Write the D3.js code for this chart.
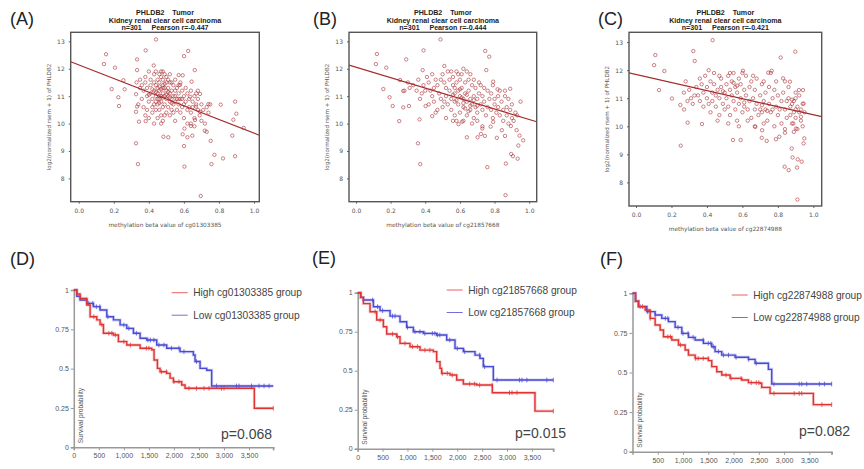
<!DOCTYPE html>
<html>
<head>
<meta charset="utf-8">
<script src="https://cdn.jsdelivr.net/npm/d3@7"></script>
<style>
  body { margin: 0; background: #fff; }
  svg { display: block; font-family: 'Liberation Sans', Arial, sans-serif; }
</style>
</head>
<body>
<div id="chart"></div>
<script>
// ---- scatter data: [methylation beta, log2 expression] ----
const pointsA = [
  [0.441,13.07],[0.156,12.53],[0.382,12.67],[0.624,12.65],[0.144,12.17],[0.207,12.04],[0.333,12.34],[0.333,11.95],
  [0.428,12.12],[0.601,12.46],[0.662,11.95],[0.188,11.26],[0.226,10.96],[0.230,10.64],[0.255,11.58],[0.262,11.25],
  [0.327,11.07],[0.333,10.62],[0.327,10.43],[0.344,10.07],[0.382,10.09],[0.327,9.28],[0.338,8.52],[0.483,9.52],
  [0.511,9.50],[0.603,9.82],[0.601,9.18],[0.603,8.43],[0.696,7.36],[0.593,9.61],[0.620,9.5],[0.648,9.56],
  [0.663,10.13],[0.640,9.91],[0.719,9.74],[0.730,9.70],[0.753,9.37],[0.757,8.52],[0.774,8.86],[0.823,8.73],
  [0.876,9.56],[0.892,8.81],[0.810,10.69],[0.892,10.80],[0.899,10.36],[0.882,10.14],[0.941,9.84],[0.740,10.71],
  [0.692,10.43],[0.669,10.62],[0.692,11.08],[0.635,10.98],[0.644,11.53],[0.593,11.76],[0.570,11.77],[0.578,11.41],
  [0.35,11.6],[0.36,11.4],[0.37,11.2],[0.36,10.9],[0.38,11.7],[0.38,11.5],[0.39,11.3],[0.39,11.0],[0.40,10.8],
  [0.40,11.9],[0.41,11.6],[0.41,11.4],[0.41,11.1],[0.42,10.9],[0.42,10.6],[0.37,10.6],[0.34,10.7],[0.35,11.3],
  [0.33,11.5],[0.38,10.3],[0.39,10.5],[0.40,10.2],[0.42,10.4],[0.43,10.0],
  [0.43,11.8],[0.43,11.5],[0.43,11.2],[0.44,11.0],[0.44,10.8],[0.44,11.9],[0.45,11.6],[0.45,11.3],[0.45,11.1],
  [0.45,10.7],[0.46,11.8],[0.46,11.5],[0.46,11.2],[0.46,10.9],[0.46,10.5],[0.47,11.9],[0.47,11.7],[0.47,11.0],
  [0.47,10.8],[0.47,10.3],[0.48,11.6],[0.48,11.4],[0.48,11.1],[0.48,10.6],[0.48,10.1],[0.49,11.8],[0.49,11.3],
  [0.49,11.0],[0.49,10.7],[0.50,11.5],[0.50,11.2],[0.50,10.9],[0.50,10.4],[0.44,10.5],[0.45,10.2],[0.47,10.0],
  [0.49,10.3],[0.43,10.7],[0.44,11.4],[0.46,11.0],[0.48,11.9],[0.50,11.7],
  [0.51,11.6],[0.51,11.3],[0.51,11.0],[0.51,10.6],[0.52,11.8],[0.52,11.1],[0.52,10.8],[0.52,10.3],[0.53,11.5],
  [0.53,11.2],[0.53,10.9],[0.53,10.5],[0.54,11.4],[0.54,11.0],[0.54,10.7],[0.55,11.6],[0.55,11.2],[0.55,10.8],
  [0.55,10.1],[0.56,11.3],[0.56,10.9],[0.56,10.5],[0.57,11.1],[0.57,10.7],[0.58,11.5],[0.58,10.9],[0.58,10.4],
  [0.59,11.2],[0.59,10.6],[0.60,11.0],[0.60,10.7],[0.60,10.2],[0.52,11.5],[0.54,10.4],[0.57,11.4],[0.59,10.9],
  [0.61,11.3],[0.61,10.8],[0.62,10.5],[0.62,11.1],[0.63,10.9],[0.63,10.6],[0.64,11.2],[0.64,10.4],[0.65,10.8],
  [0.65,10.6],[0.66,11.0],[0.66,10.2],[0.67,10.7],[0.67,11.1],[0.68,10.5],[0.68,10.9],[0.69,10.3],[0.70,10.7],
  [0.70,10.1],[0.71,10.5],[0.72,10.0],[0.73,10.6],[0.74,10.4],[0.75,10.7],[0.66,9.9],[0.62,10.0],[0.68,11.2],[0.64,10.0],
  [0.44,11.15],[0.46,11.35],[0.48,10.95],[0.50,11.05],[0.45,10.9],[0.47,11.25],[0.49,11.45],[0.51,11.15],
  [0.53,10.75],[0.42,11.25],[0.40,11.05],[0.55,11.0],[0.57,10.9],[0.46,10.75],[0.48,11.3],[0.52,10.95]
];
const pointsB = [
  [0.488,13.07],[0.121,12.54],[0.115,12.17],[0.175,12.04],[0.390,12.67],[0.290,12.34],[0.746,12.65],[0.769,12.44],
  [0.752,11.95],[0.385,11.95],[0.158,11.26],[0.194,10.96],[0.212,10.64],[0.250,10.09],[0.273,10.59],[0.306,10.64],
  [0.367,10.15],[0.358,9.28],[0.371,8.52],[0.273,11.19],[0.254,11.59],[0.402,10.64],[0.440,10.27],[0.640,9.50],
  [0.702,9.50],[0.721,9.62],[0.744,9.55],[0.758,8.41],[0.729,9.82],[0.813,9.48],[0.860,9.55],[0.865,8.54],
  [0.863,7.39],[0.896,8.89],[0.906,8.81],[0.933,8.72],[0.937,9.20],[0.944,9.56],[0.965,9.39],[0.950,10.80],
  [0.927,9.76],[0.894,9.91],[0.842,9.76],[0.777,9.89],[0.792,10.06],[0.890,11.27],[0.817,11.25],[0.792,11.53],
  [0.613,10.07],[0.592,9.98],[0.560,10.10],
  [0.41,11.7],[0.42,11.5],[0.43,11.2],[0.44,11.0],[0.45,10.8],[0.46,11.6],[0.47,11.4],[0.48,11.1],[0.49,10.9],
  [0.50,10.6],[0.50,11.8],[0.51,12.1],[0.51,11.5],[0.52,11.3],[0.52,11.0],[0.53,10.7],[0.53,11.9],[0.54,11.6],
  [0.54,11.2],[0.55,10.9],[0.55,10.5],[0.56,11.7],[0.56,11.4],[0.57,11.1],[0.57,10.8],[0.58,11.9],[0.58,11.5],
  [0.59,11.2],[0.59,10.7],[0.60,11.6],[0.60,11.0],[0.60,10.4],[0.61,11.8],[0.61,11.3],[0.62,10.9],[0.62,10.6],
  [0.63,11.5],[0.63,11.1],[0.64,10.8],[0.64,10.3],[0.65,11.6],[0.65,11.2],[0.66,10.9],[0.66,10.5],[0.67,11.4],
  [0.67,10.7],[0.68,11.0],[0.68,10.2],[0.69,11.3],[0.69,10.6],[0.70,10.9],[0.70,10.4],[0.71,11.5],[0.71,11.1],
  [0.72,10.7],[0.73,10.5],[0.73,11.0],[0.74,10.8],[0.75,10.3],[0.76,11.2],[0.76,10.6],[0.77,10.9],[0.78,10.5],
  [0.78,11.1],[0.79,10.2],[0.80,10.7],[0.80,10.9],[0.81,10.4],[0.82,10.6],[0.82,11.0],[0.83,10.3],[0.84,10.8],
  [0.85,10.5],[0.85,10.1],[0.86,11.0],[0.87,10.6],[0.87,10.3],[0.88,10.9],[0.88,10.0],[0.89,10.5],[0.90,10.2],
  [0.90,10.7],[0.91,10.1],[0.92,10.4],[0.93,10.3],[0.45,11.3],[0.47,10.5],[0.49,11.6],[0.52,10.2],[0.55,11.9],
  [0.57,10.3],[0.59,11.8],[0.62,12.0],[0.64,11.9],[0.66,11.8],[0.68,11.6],[0.72,11.4],[0.74,11.3],[0.79,11.4],
  [0.83,11.2],[0.86,11.2],[0.62,10.1],[0.67,10.0],[0.70,10.1],[0.73,9.9],[0.58,10.1],[0.44,11.8],[0.39,11.4],
  [0.38,11.1],[0.36,11.6],[0.33,11.4],[0.35,11.2],[0.30,11.5],[0.28,11.2],[0.31,11.3],[0.37,10.9],[0.40,11.2],
  [0.42,10.7],[0.46,10.4],[0.51,10.8],
  [0.56,11.05],[0.58,10.85],[0.60,11.25],[0.62,10.75],[0.64,11.05],[0.66,10.65],[0.68,10.85],[0.70,10.65],
  [0.61,10.95],[0.65,10.45],[0.57,11.3],[0.63,10.55]
];
const pointsC = [
  [0.432,13.07],[0.109,12.54],[0.102,12.18],[0.323,12.68],[0.331,12.33],[0.130,11.29],[0.203,10.99],[0.250,10.76],
  [0.271,10.60],[0.291,10.13],[0.252,9.31],[0.372,10.08],[0.547,9.51],[0.590,9.51],[0.711,9.86],[0.709,9.59],
  [0.737,9.48],[0.789,9.54],[0.816,12.45],[0.898,12.66],[0.840,9.77],[0.878,9.21],[0.883,8.89],[0.838,8.56],
  [0.861,8.44],[0.912,8.82],[0.934,8.74],[0.908,8.53],[0.910,7.39],[0.945,9.39],[0.949,9.57],[0.902,9.92],
  [0.887,10.10],[0.930,10.34],[0.945,10.81],[0.942,11.29],[0.919,11.29],[0.868,11.59],[0.829,11.71],[0.765,11.98],
  [0.746,11.91],[0.603,11.98],[0.160,11.97],[0.808,9.63],[0.673,9.98],
  [0.28,11.6],[0.30,11.3],[0.31,11.0],[0.32,10.8],[0.34,11.4],[0.35,11.1],[0.36,10.9],[0.37,11.5],[0.38,11.2],
  [0.38,10.7],[0.39,11.8],[0.40,11.4],[0.40,11.0],[0.41,10.8],[0.42,11.6],[0.42,10.5],[0.43,11.2],[0.43,10.9],
  [0.44,11.9],[0.44,11.5],[0.45,11.1],[0.45,10.7],[0.46,11.3],[0.47,11.0],[0.47,10.4],[0.48,11.7],[0.48,11.4],
  [0.49,10.8],[0.50,11.2],[0.50,10.6],[0.51,11.5],[0.51,11.0],[0.52,11.8],[0.52,10.7],[0.53,11.3],[0.53,10.4],
  [0.54,11.6],[0.54,11.1],[0.55,10.9],[0.55,11.9],[0.56,11.4],[0.56,10.6],[0.57,11.2],[0.57,10.2],[0.58,11.7],
  [0.58,10.8],[0.59,11.5],[0.59,11.0],[0.60,10.5],[0.61,11.3],[0.61,10.7],[0.62,11.8],[0.62,11.1],[0.63,10.6],
  [0.64,11.4],[0.64,10.9],[0.65,11.6],[0.65,10.3],[0.66,11.0],[0.67,10.6],[0.67,11.3],[0.68,11.7],[0.68,10.8],
  [0.69,10.4],[0.70,11.1],[0.70,10.6],[0.71,11.5],[0.71,10.5],[0.72,10.9],[0.73,10.6],[0.73,11.2],[0.74,10.2],
  [0.75,10.8],[0.75,11.4],[0.76,10.5],[0.77,11.0],[0.77,10.6],[0.78,11.3],[0.79,10.7],[0.80,10.4],[0.80,11.1],
  [0.81,10.6],[0.82,10.9],[0.82,10.1],[0.83,11.2],[0.84,10.6],[0.85,10.3],[0.85,10.9],[0.86,11.0],[0.87,10.7],
  [0.87,10.4],[0.88,10.1],[0.88,10.8],[0.89,10.9],[0.89,10.5],[0.90,11.0],[0.90,10.3],[0.91,10.7],[0.91,9.9],
  [0.92,10.5],[0.92,11.1],[0.93,10.6],[0.93,10.2],[0.94,10.8],[0.94,10.0],[0.95,10.5],[0.90,11.2],[0.86,11.4],
  [0.84,11.6],[0.79,11.6],[0.76,11.9],[0.72,11.6],[0.66,11.8],[0.60,11.9],[0.53,11.9],[0.47,11.8],[0.41,12.0],
  [0.36,11.7],[0.33,11.1],[0.29,10.9],[0.27,11.2],[0.46,10.2],[0.52,10.1],[0.58,10.0],[0.63,10.2],[0.67,10.0],
  [0.72,10.1],[0.78,10.0],[0.84,9.9],[0.89,9.8],
  [0.55,11.55],[0.57,11.45],[0.49,11.25],[0.61,10.85],[0.71,10.75],[0.74,10.55],[0.88,10.95],[0.90,10.6]
];
// fitted regression lines [intercept, slope]
const fitA = [12.14, -2.49];
const fitB = [12.06, -1.91];
const fitC = [11.85, -1.44];
const probes = ['cg01303385', 'cg21857668', 'cg22874988'];
const pearson = ['-0.447', '-0.444', '-0.421'];
const betaTicks = [0, 0.2, 0.4, 0.6, 0.8, 1.0];
const exprTicks = [8, 9, 10, 11, 12, 13];

// ---- survival data: step points [days, survival] and censor times ----
const kmHighD = [[0,1],[60,0.975],[126,0.947],[260,0.905],[326,0.83],[459,0.81],[525,0.78],[592,0.725],[792,0.714],
  [891,0.672],[1058,0.65],[1324,0.63],[1557,0.62],[1603,0.555],[1670,0.502],[1723,0.48],[1856,0.47],[1923,0.44],
  [1989,0.417],[2156,0.396],[2222,0.375],[3606,0.248],[3985,0.248]];
const kmLowD = [[0,1],[60,0.96],[126,0.936],[260,0.915],[392,0.894],[525,0.873],[659,0.83],[792,0.81],[925,0.778],
  [1058,0.756],[1191,0.725],[1324,0.693],[1457,0.682],[1657,0.65],[1856,0.63],[2122,0.608],[2388,0.587],
  [2422,0.545],[2522,0.502],[2655,0.49],[2754,0.39],[3985,0.39]];
const censorHighD = [400,560,700,760,830,1000,1130,1450,1500,1750,1850,2000,2100,2300,2450,2600,2700,2950,3000,3985];
const censorLowD = [300,380,450,520,680,1000,1100,1250,1480,1530,1600,1700,1800,1950,2100,2200,2450,2850,3250,3300,3550,3700,3800,3900];

const kmHighE = [[0,1],[60,0.97],[114,0.93],[248,0.878],[382,0.825],[516,0.782],[583,0.735],[783,0.718],[850,0.675],
  [1051,0.654],[1252,0.632],[1520,0.622],[1587,0.558],[1654,0.515],[1687,0.483],[1855,0.472],[1989,0.44],
  [2123,0.415],[2390,0.408],[2705,0.359],[3562,0.241],[3930,0.241]];
const kmLowE = [[0,1],[60,0.97],[114,0.953],[315,0.91],[449,0.885],[650,0.85],[850,0.814],[984,0.778],[1118,0.75],
  [1319,0.739],[1587,0.729],[1788,0.697],[1955,0.643],[2123,0.622],[2357,0.6],[2457,0.579],[2524,0.526],
  [2725,0.44],[3930,0.44]];
const censorHighE = [350,450,700,800,950,1100,1200,1350,1450,1700,1800,1900,2250,2350,2450,2700,3050,3100,3200,3930];
const censorLowE = [300,400,500,700,750,1000,1150,1250,1350,1500,1550,1600,1650,1850,2000,2150,2450,2550,2800,3250,3300,3400,3800,3930];

const kmHighF = [[0,1],[60,0.95],[119,0.916],[251,0.895],[350,0.842],[448,0.8],[547,0.768],[613,0.726],[778,0.705],
  [910,0.674],[1042,0.642],[1108,0.61],[1240,0.589],[1503,0.575],[1569,0.537],[1668,0.505],[1767,0.484],
  [1932,0.463],[2163,0.453],[2295,0.436],[2526,0.432],[2558,0.406],[2723,0.368],[3580,0.297],[3943,0.297]];
const kmLowF = [[0,1],[60,0.95],[119,0.916],[284,0.884],[448,0.863],[580,0.842],[712,0.821],[844,0.785],[976,0.747],
  [1108,0.722],[1240,0.705],[1404,0.684],[1569,0.663],[1635,0.632],[1767,0.61],[2031,0.596],[2295,0.583],
  [2427,0.558],[2690,0.52],[2756,0.427],[3943,0.427]];
const censorHighF = [200,350,700,750,950,1250,1300,1400,1500,1850,1950,2150,2350,2450,2500,2800,3200,3300,3350,3750,3943];
const censorLowF = [150,300,450,650,700,900,1000,1100,1200,1400,1500,1550,1600,1700,1800,1900,2050,2300,2450,2800,3300,3350,3450,3700,3800,3943];

const survTicks = [0, 0.25, 0.5, 0.75, 1];
const dayTicks = [0, 500, 1000, 1500, 2000, 2500, 3000, 3500];
const pValues = ['0.068', '0.015', '0.082'];
const panelLetters = ['(A)', '(B)', '(C)', '(D)', '(E)', '(F)'];

const WIDTH = 864;
const HEIGHT = 469;
const svg = d3.select('#chart').append('svg').attr('width', WIDTH).attr('height', HEIGHT);

const letterPos = [[10, 25], [313, 25], [598, 25], [10, 265], [312, 264], [600, 265]];
svg.selectAll('.letter')
  .data(panelLetters)
  .join('text')
  .attr('class', 'letter')
  .attr('x', (d, i) => letterPos[i][0])
  .attr('y', (d, i) => letterPos[i][1])
  .attr('font-size', 18)
  .attr('fill', '#222')
  .text((d) => d);

const drawScatter = (cfg) => {
  const { points, fit, probe, r, left, right, top, bottom, xDomain, yDomain } = cfg;
  const x = d3.scaleLinear().domain(xDomain).range([left, right]);
  const y = d3.scaleLinear().domain(yDomain).range([bottom, top]);
  const g = svg.append('g');
  const cx = (left + right) / 2;

  const titles = ['PHLDB2    Tumor', 'Kidney renal clear cell carcinoma', `n=301     Pearson r=${r}`];
  g.selectAll('.title')
    .data(titles)
    .join('text')
    .attr('x', cx)
    .attr('y', (d, i) => 15 + i * 7.7)
    .attr('text-anchor', 'middle')
    .attr('font-size', 7.1)
    .attr('font-weight', 'bold')
    .attr('fill', '#222')
    .style('white-space', 'pre')
    .text((d) => d);

  const clipId = `clip-${probe}`;
  g.append('clipPath').attr('id', clipId)
    .append('rect').attr('x', left).attr('y', top).attr('width', right - left).attr('height', bottom - top);

  g.append('g')
    .attr('clip-path', `url(#${clipId})`)
    .selectAll('circle')
    .data(points)
    .join('circle')
    .attr('cx', (d) => x(d[0]))
    .attr('cy', (d) => y(d[1]))
    .attr('r', 1.7)
    .attr('fill', 'none')
    .attr('stroke', '#a3242a')
    .attr('stroke-opacity', 0.7)
    .attr('stroke-width', 0.8);

  g.append('line')
    .attr('clip-path', `url(#${clipId})`)
    .attr('x1', x(xDomain[0])).attr('y1', y(fit[0] + fit[1] * xDomain[0]))
    .attr('x2', x(xDomain[1])).attr('y2', y(fit[0] + fit[1] * xDomain[1]))
    .attr('stroke', '#a52a2a')
    .attr('stroke-width', 1.2);

  const axisB = g.append('g')
    .attr('transform', `translate(0,${bottom})`)
    .call(d3.axisBottom(x).tickValues(betaTicks).tickFormat(d3.format('.1f')).tickSize(2).tickPadding(5));
  const axisL = g.append('g')
    .attr('transform', `translate(${left},0)`)
    .call(d3.axisLeft(y).tickValues(exprTicks).tickFormat(d3.format('d')).tickSize(2).tickPadding(4));
  [axisB, axisL].forEach((a) => {
    a.select('.domain').remove();
    a.selectAll('line').attr('stroke', '#666');
    a.selectAll('text').attr('font-size', 6).attr('fill', '#555').attr('font-family', "'DejaVu Sans', sans-serif");
  });

  g.append('rect')
    .attr('x', left).attr('y', top)
    .attr('width', right - left).attr('height', bottom - top)
    .attr('fill', 'none')
    .attr('stroke', '#555')
    .attr('stroke-width', 1.4);

  g.append('text')
    .attr('x', cx)
    .attr('y', bottom + 25)
    .attr('text-anchor', 'middle')
    .attr('font-size', 5.8)
    .attr('fill', '#555')
    .attr('font-family', "'DejaVu Sans', sans-serif")
    .text(`methylation beta value of ${probe}`);

  g.append('text')
    .attr('transform', `translate(${left - 20},${(top + bottom) / 2}) rotate(-90)`)
    .attr('text-anchor', 'middle')
    .attr('font-size', 5.6)
    .attr('fill', '#555')
    .attr('font-family', "'DejaVu Sans', sans-serif")
    .text('log2(normalized rsem + 1) of PHLDB2');
};

drawScatter({ points: pointsA, fit: fitA, probe: probes[0], r: pearson[0],
  left: 70.7, right: 259.3, top: 32.3, bottom: 201.7, xDomain: [-0.0456, 1.03], yDomain: [7.15, 13.33] });
drawScatter({ points: pointsB, fit: fitB, probe: probes[1], r: pearson[1],
  left: 349, right: 536.7, top: 32.3, bottom: 201.7, xDomain: [-0.04, 1.043], yDomain: [7.15, 13.33] });
drawScatter({ points: pointsC, fit: fitC, probe: probes[2], r: pearson[2],
  left: 629, right: 821.7, top: 32.3, bottom: 206, xDomain: [-0.0395, 1.047], yDomain: [7.16, 13.35] });

const RED = '#e03434';
const BLUE = '#4a4ad4';

const drawKM = (cfg) => {
  const { high, low, censorHigh, censorLow, probe, p, x0, x1, yTop, yBottom, tMax, showZero, legendX, legendY, pX, pY } = cfg;
  const x = d3.scaleLinear().domain([0, tMax]).range([x0, x1]);
  const y = d3.scaleLinear().domain([0, 1]).range([yBottom, yTop]);
  const g = svg.append('g');

  const axisX = g.append('g')
    .attr('transform', `translate(0,${yBottom})`)
    .call(d3.axisBottom(x)
      .tickValues(showZero ? dayTicks : dayTicks.slice(1))
      .tickFormat(d3.format(','))
      .tickSize(3)
      .tickPadding(3));
  const axisY = g.append('g')
    .attr('transform', `translate(${x0},0)`)
    .call(d3.axisLeft(y).tickValues(survTicks).tickFormat((d) => `${d}`).tickSize(3).tickPadding(2));
  [axisX, axisY].forEach((a) => {
    a.select('.domain').attr('stroke', '#999').attr('stroke-width', 1.5);
    a.selectAll('line').attr('stroke', '#999');
    a.selectAll('text').attr('font-size', 7).attr('fill', '#555');
  });
  // right end tick of x axis
  g.append('line')
    .attr('x1', x1).attr('x2', x1).attr('y1', yBottom).attr('y2', yBottom + 3)
    .attr('stroke', '#999');

  const line = d3.line().x((d) => x(d[0])).y((d) => y(d[1])).curve(d3.curveStepAfter);
  const stepAt = (data, t) => {
    let s = data[0][1];
    data.forEach((d) => { if (d[0] <= t) s = d[1]; });
    return s;
  };

  [[low, censorLow, BLUE], [high, censorHigh, RED]].forEach(([data, censors, colour]) => {
    g.append('path')
      .attr('d', line(data))
      .attr('fill', 'none')
      .attr('stroke', colour)
      .attr('stroke-opacity', 0.25)
      .attr('stroke-width', 3);
    g.append('path')
      .attr('d', line(data))
      .attr('fill', 'none')
      .attr('stroke', colour)
      .attr('stroke-width', 1.4);
    g.append('g')
      .selectAll('line')
      .data(censors)
      .join('line')
      .attr('x1', (d) => x(d)).attr('x2', (d) => x(d))
      .attr('y1', (d) => y(stepAt(data, d)) - 2.4)
      .attr('y2', (d) => y(stepAt(data, d)) + 2.4)
      .attr('stroke', colour)
      .attr('stroke-opacity', 0.75)
      .attr('stroke-width', 1);
  });

  g.append('text')
    .attr('transform', `translate(${x0 + 9},${yBottom - 4}) rotate(-90)`)
    .attr('font-size', 6.6)
    .attr('fill', '#555')
    .text('Survival probability');

  const legend = [[`High ${probe} group`, '#ee6060'], [`Low ${probe} group`, '#7070dd']];
  legend.forEach(([label, colour], i) => {
    const ly = legendY + i * 22.5;
    g.append('line')
      .attr('x1', legendX).attr('x2', legendX + 16)
      .attr('y1', ly).attr('y2', ly)
      .attr('stroke', colour).attr('stroke-width', 1);
    g.append('text')
      .attr('x', legendX + 21.5)
      .attr('y', ly + 3.5)
      .attr('font-size', 10.2)
      .attr('fill', '#444')
      .text(label);
  });

  g.append('text')
    .attr('x', pX)
    .attr('y', pY)
    .attr('text-anchor', 'end')
    .attr('font-size', 14)
    .attr('fill', '#444')
    .text(`p=${p}`);
};

drawKM({ high: kmHighD, low: kmLowD, censorHigh: censorHighD, censorLow: censorLowD, probe: probes[0], p: pValues[0],
  x0: 73.8, x1: 273.3, yTop: 290, yBottom: 447.3, tMax: 3985, showZero: true,
  legendX: 171.7, legendY: 292.7, pX: 272, pY: 439 });
drawKM({ high: kmHighE, low: kmLowE, censorHigh: censorHighE, censorLow: censorLowE, probe: probes[1], p: pValues[1],
  x0: 357.7, x1: 553.3, yTop: 292.7, yBottom: 448.7, tMax: 3930, showZero: true,
  legendX: 446.7, legendY: 290, pX: 566, pY: 438.3 });
drawKM({ high: kmHighF, low: kmLowF, censorHigh: censorHighF, censorLow: censorLowF, probe: probes[2], p: pValues[2],
  x0: 632.5, x1: 831.7, yTop: 293.3, yBottom: 451.7, tMax: 3943, showZero: false,
  legendX: 731.7, legendY: 295, pX: 850, pY: 436 });
</script>
</body>
</html>
